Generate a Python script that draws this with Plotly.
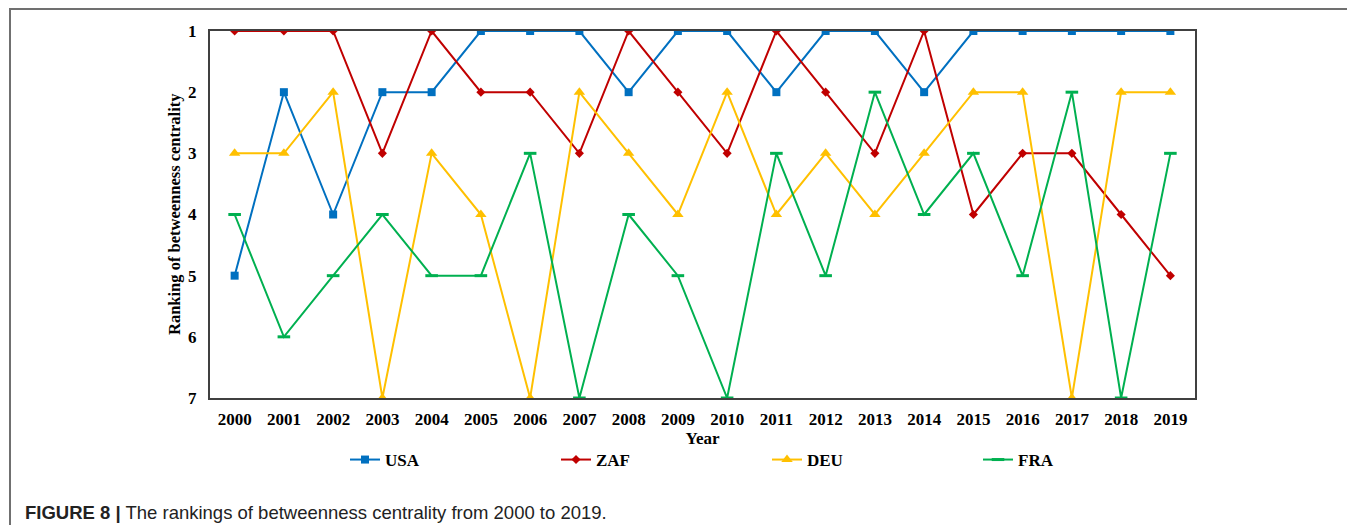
import plotly.graph_objects as go

years = list(range(2000, 2020))
usa = [5, 2, 4, 2, 2, 1, 1, 1, 2, 1, 1, 2, 1, 1, 2, 1, 1, 1, 1, 1]
zaf = [1, 1, 1, 3, 1, 2, 2, 3, 1, 2, 3, 1, 2, 3, 1, 4, 3, 3, 4, 5]
deu = [3, 3, 2, 7, 3, 4, 7, 2, 3, 4, 2, 4, 3, 4, 3, 2, 2, 7, 2, 2]
fra = [4, 6, 5, 4, 5, 5, 3, 7, 4, 5, 7, 3, 5, 2, 4, 3, 5, 2, 7, 3]
y_ticks = [1, 2, 3, 4, 5, 6, 7]

SERIF = "Liberation Serif, Times New Roman, serif"
SANS = "Liberation Sans, Arial, sans-serif"

fig = go.Figure()
fig.add_trace(go.Scatter(x=years, y=usa, name="USA", mode="lines+markers",
                         line=dict(color="#0070C0", width=2),
                         marker=dict(symbol="square", size=8, color="#0070C0")))
fig.add_trace(go.Scatter(x=years, y=zaf, name="ZAF", mode="lines+markers",
                         line=dict(color="#C00000", width=2),
                         marker=dict(symbol="diamond", size=7, color="#C00000")))
fig.add_trace(go.Scatter(x=years, y=deu, name="DEU", mode="lines+markers",
                         line=dict(color="#FFC000", width=2),
                         marker=dict(symbol="triangle-up", size=10, color="#FFC000")))
fig.add_trace(go.Scatter(x=years, y=fra, name="FRA", mode="lines+markers",
                         line=dict(color="#00B050", width=2),
                         marker=dict(symbol="line-ew", size=9, color="#00B050",
                                     line=dict(color="#00B050", width=3))))

# page offset of the figure inside the html body (default body margin)
OFF = 8
W, H = 1355 - OFF, 525 - OFF
L, R, T, B = 210 - OFF, 1355 - 1195, 31 - OFF, 525 - 398
pw, ph = W - L - R, H - T - B

def px(xp):
    return (xp - OFF - L) / pw

def py(yp):
    return (H - B - (yp - OFF)) / ph

fig.update_layout(
    width=W, height=H,
    margin=dict(l=L, r=R, t=T, b=B),
    paper_bgcolor="white", plot_bgcolor="white",
    showlegend=True,
    legend=dict(orientation="h", x=px(345), y=py(460), yanchor="middle", xanchor="left",
                entrywidth=166, entrywidthmode="pixels",
                font=dict(family=SERIF, size=17, color="black", weight="bold"),
                bgcolor="rgba(0,0,0,0)"),
    xaxis=dict(range=[1999.5, 2019.5], tickmode="array", tickvals=years,
               ticktext=[str(y) for y in years], showgrid=False, zeroline=False,
               showline=True, mirror=True, linecolor="#404040", linewidth=2,
               ticks="", ticklabelstandoff=5,
               tickfont=dict(family=SERIF, size=17, color="black", weight="bold"),
               title=dict(text="Year", standoff=2,
                          font=dict(family=SERIF, size=17, color="black", weight="bold"))),
    yaxis=dict(range=[7, 1], tickmode="array", tickvals=y_ticks,
               ticktext=[str(v) for v in y_ticks], showgrid=False, zeroline=False,
               showline=True, mirror=True, linecolor="#404040", linewidth=2,
               ticks="", ticklabelstandoff=8,
               tickfont=dict(family=SERIF, size=17, color="black", weight="bold")),
)

fig.add_annotation(xref="paper", yref="paper", x=px(174), y=py(214), xanchor="center", yanchor="middle",
                   textangle=-90, showarrow=False, text="Ranking of betweenness centrality",
                   font=dict(family=SERIF, size=16.5, color="black", weight="bold"))

frame_col = "#707070"
fig.add_shape(type="line", xref="paper", yref="paper", x0=px(9), x1=px(1353), y0=py(9), y1=py(9),
              line=dict(color=frame_col, width=2))
fig.add_shape(type="line", xref="paper", yref="paper", x0=px(10), x1=px(10), y0=py(9), y1=py(525),
              line=dict(color=frame_col, width=2))
fig.add_shape(type="line", xref="paper", yref="paper", x0=px(1353), x1=px(1353), y0=py(9), y1=py(525),
              line=dict(color=frame_col, width=2))

fig.add_annotation(xref="paper", yref="paper", x=px(23), y=py(512), xanchor="left", yanchor="middle",
                   showarrow=False,
                   text="<b>FIGURE 8 |</b> The rankings of betweenness centrality from 2000 to 2019.",
                   font=dict(family=SANS, size=18.5, color="#222222"))

fig.write_html("out.html")
